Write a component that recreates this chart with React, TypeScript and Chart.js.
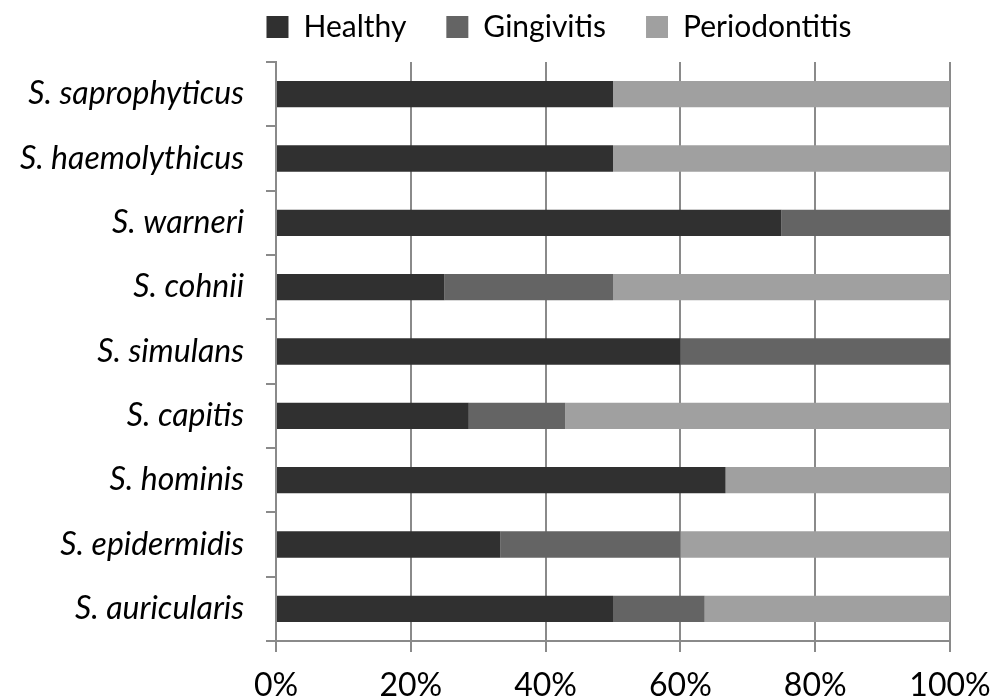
import React, { useEffect, useRef } from 'react';
import { Chart, registerables } from 'chart.js';

Chart.register(...registerables);

const categories = [
  'S. saprophyticus',
  'S. haemolythicus',
  'S. warneri',
  'S. cohnii',
  'S. simulans',
  'S. capitis',
  'S. hominis',
  'S. epidermidis',
  'S. auricularis',
];
const seriesNames = ['Healthy', 'Gingivitis', 'Periodontitis'];
const healthy = [50, 50, 75, 25, 60, 28.6, 66.7, 33.3, 50];
const gingivitis = [0, 0, 25, 25, 40, 14.3, 0, 26.7, 13.6];
const periodontitis = [50, 50, 0, 50, 0, 57.1, 33.3, 40, 36.4];
const seriesColors = ['#303030', '#646464', '#a0a0a0'];
const xMin = 0;
const xMax = 100;
const xStep = 20;

const gridColor = '#8a8a8a';

const legendShift = {
  id: 'legendShift',
  afterUpdate(chart: any) {
    const l = chart.legend;
    if (l) {
      l.left += 84;
      l.right += 84;
    }
  },
};

export default function App() {
  const ref = useRef<HTMLCanvasElement | null>(null);

  useEffect(() => {
    document.body.style.margin = '0';
    const canvas = ref.current;
    if (!canvas) return;
    const values = [healthy, gingivitis, periodontitis];
    const chart = new Chart(canvas, {
      type: 'bar',
      data: {
        labels: categories,
        datasets: seriesNames.map((name, i) => ({
          label: name,
          data: values[i],
          backgroundColor: seriesColors[i],
          borderWidth: 0,
          barPercentage: 0.41,
          categoryPercentage: 1,
        })),
      },
      options: {
        indexAxis: 'y',
        responsive: false,
        animation: false,
        devicePixelRatio: 1,
        layout: { padding: { top: -28, right: 40, bottom: 0, left: 0 } },
        plugins: {
          tooltip: { enabled: false },
          legend: {
            display: true,
            position: 'top',
            labels: {
              boxWidth: 22,
              boxHeight: 22,
              padding: 40,
              color: '#000',
              font: { family: 'Lato', size: 30 },
            },
          },
        },
        scales: {
          x: {
            type: 'linear',
            position: 'bottom',
            stacked: true,
            min: xMin,
            max: xMax,
            ticks: {
              stepSize: xStep,
              color: '#000',
              font: { family: 'Lato', size: 32 },
              padding: 14,
              callback: (v: any) => v + '%',
            },
            grid: {
              color: gridColor,
              lineWidth: 2,
              drawTicks: true,
              tickLength: 11,
            },
            border: { display: true, color: gridColor, width: 2 },
            afterFit: (s: any) => {
              s.height = 58;
              s.paddingLeft = 0;
              s.paddingRight = 0;
            },
          },
          xTop: {
            type: 'linear',
            position: 'top',
            display: true,
            grid: { display: false },
            border: { display: false },
            ticks: { display: false },
            afterFit: (s: any) => {
              s.height = 10;
              s.paddingLeft = 0;
              s.paddingRight = 0;
            },
          },
          y: {
            type: 'category',
            stacked: true,
            ticks: {
              color: '#000',
              font: { family: 'Lato', size: 32, style: 'italic' },
              padding: 22,
            },
            grid: {
              offset: true,
              drawOnChartArea: false,
              drawTicks: true,
              tickLength: 10,
              color: gridColor,
              lineWidth: 2,
            },
            border: { display: true, color: gridColor, width: 2 },
            afterFit: (s: any) => {
              s.width = 276;
              s.paddingTop = 0;
              s.paddingBottom = 0;
            },
          },
        },
      },
      plugins: [legendShift],
    } as any);
    return () => chart.destroy();
  }, []);

  return (
    <div style={{ width: 990, height: 699 }}>
      <canvas ref={ref} width={990} height={699} style={{ display: 'block' }} />
    </div>
  );
}
